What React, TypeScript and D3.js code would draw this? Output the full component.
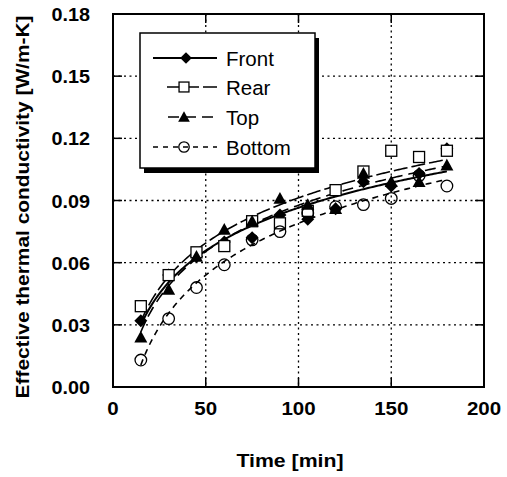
import React from "react";
import * as d3 from "d3";

const times = [15, 30, 45, 60, 75, 90, 105, 120, 135, 150, 165, 180];
const front = [0.032, 0.054, 0.063, 0.070, 0.072, 0.083, 0.081, 0.086, 0.099, 0.097, 0.103, 0.115];
const rear = [0.039, 0.054, 0.065, 0.068, 0.080, 0.079, 0.085, 0.095, 0.104, 0.114, 0.111, 0.114];
const topS = [0.024, 0.047, 0.063, 0.076, 0.080, 0.091, 0.088, 0.086, 0.103, 0.099, 0.099, 0.107];
const bottom = [0.013, 0.033, 0.048, 0.059, 0.071, 0.075, 0.084, 0.087, 0.088, 0.091, 0.102, 0.097];
const seriesNames = ["Front", "Rear", "Top", "Bottom"];
const xTicks = [0, 50, 100, 150, 200];
const yTicks = [0, 0.03, 0.06, 0.09, 0.12, 0.15, 0.18];

const W = 507, H = 477;
const FONT = "Arial, 'Liberation Sans', sans-serif";

function logFit(xs: number[], ys: number[]) {
  const lx = xs.map(Math.log);
  const mx = d3.mean(lx)!, my = d3.mean(ys)!;
  let num = 0, den = 0;
  lx.forEach((v, i) => { num += (v - mx) * (ys[i] - my); den += (v - mx) * (v - mx); });
  const b = num / den, a = my - b * mx;
  return (t: number) => a + b * Math.log(t);
}

function Marker({ kind, x, y, s = 1 }: { kind: number; x: number; y: number; s?: number }) {
  if (kind === 0) {
    const r = 6.5 * s;
    return <path d={`M${x},${y - r}L${x + r},${y}L${x},${y + r}L${x - r},${y}Z`} fill="#000" />;
  }
  if (kind === 1) {
    const h = 5.5 * s;
    return <rect x={x - h} y={y - h} width={2 * h} height={2 * h} fill="#fff" stroke="#000" strokeWidth={1.3} />;
  }
  if (kind === 2) {
    const r = 6.5 * s;
    return <path d={`M${x},${y - r}L${x + r},${y + r * 0.8}L${x - r},${y + r * 0.8}Z`} fill="#000" />;
  }
  return <circle cx={x} cy={y} r={5.8 * s} fill="none" stroke="#000" strokeWidth={1.3} />;
}

export default function App() {
  const x = d3.scaleLinear().domain([0, 200]).range([113, 484]);
  const y = d3.scaleLinear().domain([0, 0.18]).range([387, 14]);
  const data = [front, rear, topS, bottom];
  const dashes = ["", "14,4", "11,6", "6,5"];
  const widths = [2, 1.6, 1.6, 1.6];
  const sample = d3.range(15, 180.5, 1);
  const line = d3.line<[number, number]>().x(d => x(d[0])).y(d => y(d[1]));

  const lx0 = 140, ly0 = 33, lw = 175, lh = 135;
  const legendY = [58, 87, 117, 147];
  const legendStart = [153, 167, 168, 153];
  const legendDash = ["", "14,4", "11,6", "5,5"];

  return (
    <svg width={W} height={H} style={{ position: "absolute", left: 0, top: 0, background: "#fff" }}>
      <rect x={0} y={0} width={W} height={H} fill="#fff" />
      {xTicks.slice(1, -1).map(t => (
        <line key={"gx" + t} x1={x(t)} x2={x(t)} y1={y(0.18)} y2={y(0)} stroke="#000" strokeWidth={1.3} strokeDasharray="2,3.5" />
      ))}
      {yTicks.slice(1, -1).map(t => (
        <line key={"gy" + t} x1={x(0)} x2={x(200)} y1={y(t)} y2={y(t)} stroke="#000" strokeWidth={1.3} strokeDasharray="2,3.5" />
      ))}
      {xTicks.slice(1, -1).map(t => (
        <g key={"tx" + t}>
          <line x1={x(t)} x2={x(t)} y1={y(0)} y2={y(0) - 9} stroke="#000" strokeWidth={1.5} />
          <line x1={x(t)} x2={x(t)} y1={y(0.18)} y2={y(0.18) + 9} stroke="#000" strokeWidth={1.5} />
        </g>
      ))}
      {yTicks.slice(1, -1).map(t => (
        <g key={"ty" + t}>
          <line x1={x(0)} x2={x(0) + 9} y1={y(t)} y2={y(t)} stroke="#000" strokeWidth={1.5} />
          <line x1={x(200)} x2={x(200) - 9} y1={y(t)} y2={y(t)} stroke="#000" strokeWidth={1.5} />
        </g>
      ))}
      <rect x={x(0)} y={y(0.18)} width={x(200) - x(0)} height={y(0) - y(0.18)} fill="none" stroke="#000" strokeWidth={2} />
      {xTicks.map(t => (
        <text key={"lx" + t} transform={`translate(${x(t)},415) scale(1.14,1)`} textAnchor="middle" fontFamily={FONT} fontWeight="bold" fontSize={18}>{t}</text>
      ))}
      {yTicks.map(t => (
        <text key={"ly" + t} transform={`translate(90,${y(t) + 7}) scale(1.1,1)`} textAnchor="end" fontFamily={FONT} fontWeight="bold" fontSize={18}>{t.toFixed(2)}</text>
      ))}
      <text transform="translate(290,467) scale(1.15,1)" textAnchor="middle" fontFamily={FONT} fontWeight="bold" fontSize={18.5}>Time [min]</text>
      <text transform={`translate(29,207) rotate(-90) scale(1.13,1)`} textAnchor="middle" fontFamily={FONT} fontWeight="bold" fontSize={18.5}>Effective thermal conductivity [W/m-K]</text>
      {data.map((s, i) => {
        const f = logFit(times, s);
        const pts = sample.map(t => [t, f(t)] as [number, number]);
        return <path key={"fit" + i} d={line(pts)!} fill="none" stroke="#000" strokeWidth={widths[i]} strokeDasharray={dashes[i]} />;
      })}
      {data.map((s, i) => (
        <g key={"m" + i}>
          {s.map((v, j) => <Marker key={j} kind={i} x={x(times[j])} y={y(v)} />)}
        </g>
      ))}
      <rect x={lx0 + 4} y={ly0 + 5} width={lw} height={lh} fill="#000" />
      <rect x={lx0} y={ly0} width={lw} height={lh} fill="#fff" stroke="#000" strokeWidth={1.5} />
      {seriesNames.map((n, i) => (
        <g key={"lg" + i}>
          <line x1={legendStart[i]} x2={217} y1={legendY[i]} y2={legendY[i]} stroke="#000" strokeWidth={widths[i]} strokeDasharray={legendDash[i]} />
          <Marker kind={i} x={i === 0 ? 186 : 184} y={legendY[i]} s={0.9} />
          <text x={226} y={legendY[i] + 7.5} fontFamily={FONT} fontSize={20.5}>{n}</text>
        </g>
      ))}
    </svg>
  );
}
